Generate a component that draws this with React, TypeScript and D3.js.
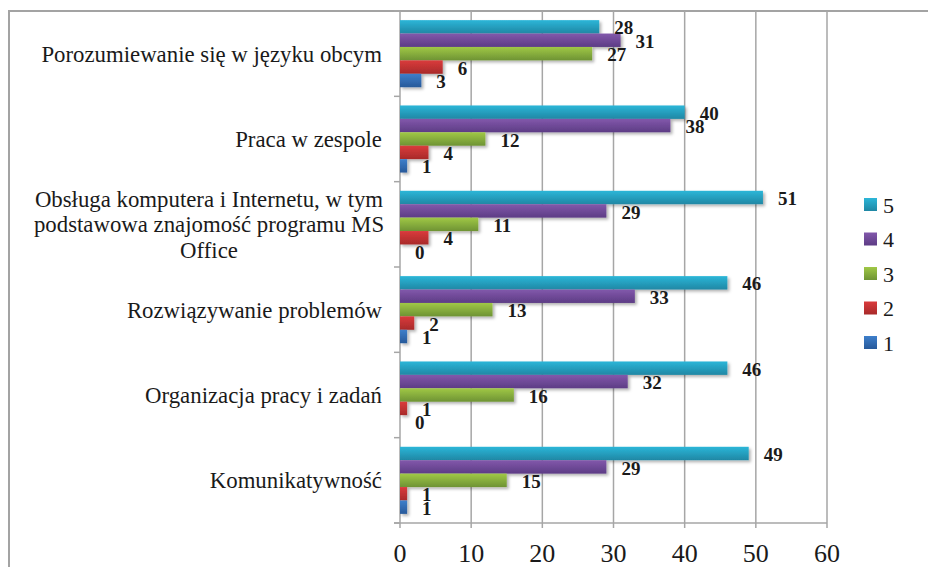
import React, { useEffect, useRef } from 'react'
import * as d3 from 'd3'

const categories = [
  ['Porozumiewanie się w języku obcym'],
  ['Praca w zespole'],
  ['Obsługa komputera i Internetu, w tym', 'podstawowa znajomość programu MS', 'Office'],
  ['Rozwiązywanie problemów'],
  ['Organizacja pracy i zadań'],
  ['Komunikatywność'],
]
const seriesNames = ['5', '4', '3', '2', '1']
const s5 = [28, 40, 51, 46, 46, 49]
const s4 = [31, 38, 29, 33, 32, 29]
const s3 = [27, 12, 11, 13, 16, 15]
const s2 = [6, 4, 4, 2, 1, 1]
const s1 = [3, 1, 0, 1, 0, 1]
const xTicks = [0, 10, 20, 30, 40, 50, 60]

// top / bottom gradient stops per series
const colors: Record<string, [string, string]> = {
  '5': ['#2cb6d8', '#1f87a4'],
  '4': ['#8258ab', '#5d3c85'],
  '3': ['#a0c846', '#6e9334'],
  '2': ['#da3b3c', '#a82a2a'],
  '1': ['#3e7fcb', '#27599a'],
}

export default function App() {
  const ref = useRef<SVGSVGElement | null>(null)

  useEffect(() => {
    if (!ref.current) return
    const svg = d3.select(ref.current)
    svg.selectAll('*').remove()

    const width = 928, height = 567
    const margin = { top: 11, right: 101, bottom: 44, left: 400 }
    const values = [s5, s4, s3, s2, s1]
    const font = 'Liberation Serif, Times New Roman, serif'

    const defs = svg.append('defs')
    seriesNames.forEach(s => {
      const lg = defs.append('linearGradient').attr('id', 'g' + s).attr('x1', 0).attr('y1', 0).attr('x2', 0).attr('y2', 1)
      lg.append('stop').attr('offset', '0%').attr('stop-color', colors[s][0])
      lg.append('stop').attr('offset', '100%').attr('stop-color', colors[s][1])
    })
    const f = defs.append('filter').attr('id', 'shadow').attr('x', '-5%').attr('y', '-30%').attr('width', '115%').attr('height', '180%')
    f.append('feDropShadow').attr('dx', 2).attr('dy', 2).attr('stdDeviation', 1.5).attr('flood-color', '#000').attr('flood-opacity', 0.3)

    svg.attr('width', width).attr('height', height)

    // outer frame
    svg.append('rect').attr('x', 9).attr('y', 11).attr('width', 940).attr('height', 600)
      .attr('fill', 'none').attr('stroke', '#a3a3a3').attr('stroke-width', 2)

    const x = d3.scaleLinear().domain([0, 60]).range([margin.left, width - margin.right])
    const y0 = d3.scaleBand<number>().domain(d3.range(categories.length)).range([margin.top, height - margin.bottom]).padding(0)
    const y1 = d3.scaleBand<string>().domain(seriesNames).range([0, y0.bandwidth()]).paddingInner(0).paddingOuter(0.68)

    // gridlines
    svg.append('g').selectAll('line').data(xTicks.slice(1)).enter().append('line')
      .attr('x1', d => x(d)).attr('x2', d => x(d))
      .attr('y1', margin.top).attr('y2', height - margin.bottom)
      .attr('stroke', '#a6a6a6').attr('stroke-width', 1.5)

    // category ticks on y axis
    svg.append('g').selectAll('line').data(d3.range(categories.length + 1)).enter().append('line')
      .attr('x1', margin.left - 6).attr('x2', margin.left)
      .attr('y1', d => margin.top + d * y0.bandwidth()).attr('y2', d => margin.top + d * y0.bandwidth())
      .attr('stroke', '#a6a6a6').attr('stroke-width', 1.5)

    // x ticks
    svg.append('g').selectAll('line').data(xTicks).enter().append('line')
      .attr('x1', d => x(d)).attr('x2', d => x(d))
      .attr('y1', height - margin.bottom).attr('y2', height - margin.bottom + 5)
      .attr('stroke', '#a6a6a6').attr('stroke-width', 1.5)

    // axis lines
    svg.append('line').attr('x1', margin.left).attr('x2', margin.left).attr('y1', margin.top).attr('y2', height - margin.bottom)
      .attr('stroke', '#a6a6a6').attr('stroke-width', 1.5)
    svg.append('line').attr('x1', margin.left - 6).attr('x2', x(60)).attr('y1', height - margin.bottom).attr('y2', height - margin.bottom)
      .attr('stroke', '#a6a6a6').attr('stroke-width', 1.5)

    // bars
    const data = categories.flatMap((_, ci) => seriesNames.map((s, si) => ({ ci, s, v: values[si][ci] })))
    const bars = svg.append('g').attr('filter', 'url(#shadow)')
    bars.selectAll('rect').data(data).enter().append('rect')
      .attr('x', x(0))
      .attr('y', d => y0(d.ci)! + y1(d.s)!)
      .attr('width', d => x(d.v) - x(0))
      .attr('height', y1.bandwidth())
      .attr('fill', d => `url(#g${d.s})`)

    // value labels
    svg.append('g').selectAll('text').data(data).enter().append('text')
      .attr('x', d => x(d.v) + 15)
      .attr('y', d => y0(d.ci)! + y1(d.s)! + y1.bandwidth() / 2 + 1)
      .attr('dy', '0.35em')
      .attr('font-family', font).attr('font-weight', 'bold').attr('font-size', 19)
      .attr('fill', '#1a1a1a')
      .text(d => d.v)

    // category labels
    categories.forEach((lines, ci) => {
      const cy = y0(ci)! + y0.bandwidth() / 2
      const t = svg.append('text')
        .attr('font-family', font).attr('font-size', 22.8).attr('fill', '#1a1a1a')
      if (lines.length === 1) {
        t.attr('text-anchor', 'end').attr('x', 382).attr('y', cy).attr('dy', '0.35em').text(lines[0])
      } else {
        t.attr('text-anchor', 'middle')
        lines.forEach((ln, li) => {
          t.append('tspan').attr('x', 209).attr('y', cy + (li - (lines.length - 1) / 2) * 25.5).attr('dy', '0.35em').text(ln)
        })
      }
    })

    // x tick labels
    svg.append('g').selectAll('text').data(xTicks).enter().append('text')
      .attr('x', d => x(d)).attr('y', 562)
      .attr('text-anchor', 'middle')
      .attr('font-family', font).attr('font-size', 26).attr('fill', '#1a1a1a')
      .text(d => d)

    // legend
    const lg = svg.append('g')
    seriesNames.forEach((s, i) => {
      const ly = 205 + i * 34.5
      lg.append('rect').attr('x', 864).attr('y', ly - 7).attr('width', 13).attr('height', 13).attr('fill', `url(#g${s})`)
      lg.append('text').attr('x', 883).attr('y', ly).attr('dy', '0.35em')
        .attr('font-family', font).attr('font-size', 22).attr('fill', '#1a1a1a')
        .text(s)
    })
  }, [])

  return <svg ref={ref} style={{ position: 'absolute', left: 0, top: 0, background: '#fff' }} />
}
